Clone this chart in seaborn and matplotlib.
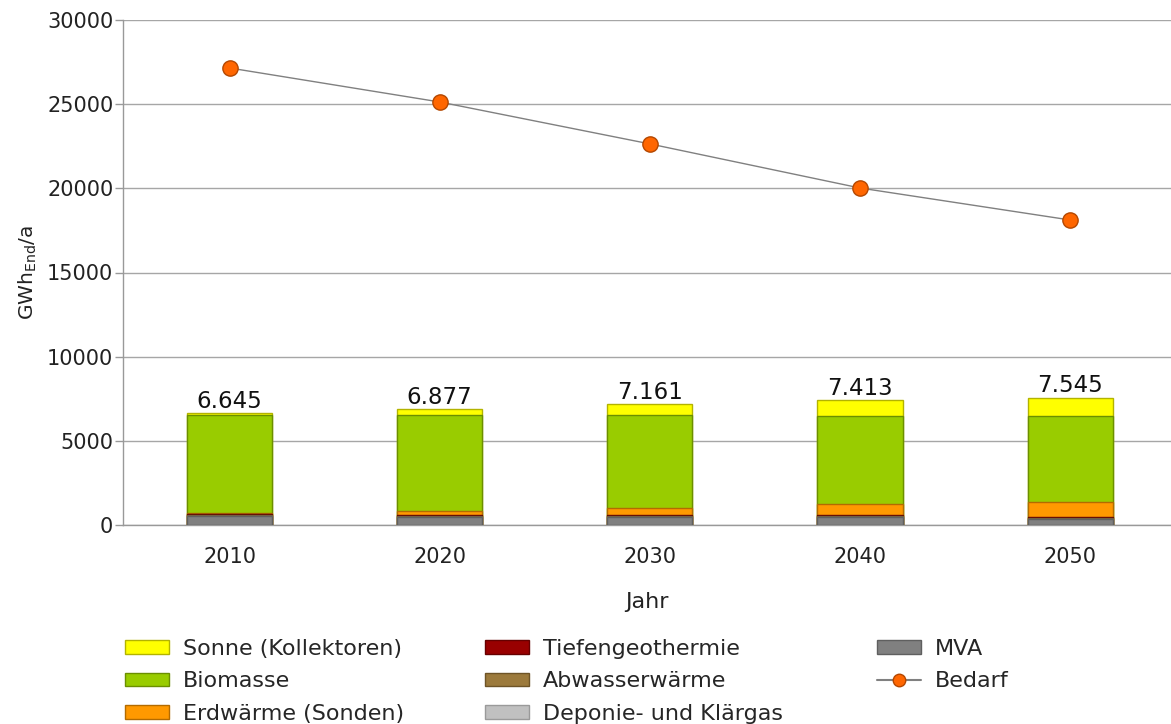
import numpy as np
import pandas as pd
import matplotlib
matplotlib.use("Agg")
import matplotlib.pyplot as plt
from matplotlib.patches import Patch
from matplotlib.lines import Line2D
import seaborn as sns

# Data (GWh_End per year)
years = ["2010", "2020", "2030", "2040", "2050"]
mva = [550, 500, 470, 470, 330]
deponie = [0, 0, 0, 0, 0]
abwasser = [50, 60, 80, 50, 100]
tiefengeo = [50, 30, 50, 50, 60]
erdwaerme = [50, 250, 430, 660, 900]
biomasse = [5850, 5720, 5494, 5243, 5105]
sonne = [95, 317, 637, 940, 1050]
totals = [6645, 6877, 7161, 7413, 7545]
total_labels = ["6.645", "6.877", "7.161", "7.413", "7.545"]
bedarf = [27150, 25130, 22640, 20020, 18120]

# Stack order from bottom to top
layers = [
    ("MVA", mva, "#808080", "#5f5f5f"),
    ("Deponie- und Klärgas", deponie, "#c0c0c0", "#9a9a9a"),
    ("Abwasserwärme", abwasser, "#9c7a3c", "#6e5427"),
    ("Tiefengeothermie", tiefengeo, "#990000", "#660000"),
    ("Erdwärme (Sonden)", erdwaerme, "#ff9900", "#b36b00"),
    ("Biomasse", biomasse, "#99cc00", "#6b8f00"),
    ("Sonne (Kollektoren)", sonne, "#ffff00", "#b3b300"),
]

sns.set_style("white")
plt.rcParams["font.family"] = ["DejaVu Sans"]

fig = plt.figure(figsize=(11.71, 7.24), dpi=100)
ax = fig.add_axes([123 / 1171, (724 - 525) / 724, (1171 - 123) / 1171, 505 / 724])

# Cumulative heights, drawn tallest first so lower segments overlay
cum = np.zeros(len(years))
cums = []
for name, vals, col, edge in layers:
    cum = cum + np.array(vals, dtype=float)
    cums.append((name, cum.copy(), col, edge))

for name, heights, col, edge in reversed(cums):
    df = pd.DataFrame({"Jahr": years, "Wert": heights})
    sns.barplot(data=df, x="Jahr", y="Wert", order=years, color=col,
                width=0.405, edgecolor=edge, linewidth=1.0, ax=ax,
                saturation=1, zorder=3)

# Demand line
dfb = pd.DataFrame({"x": np.arange(len(years)), "Bedarf": bedarf})
sns.lineplot(data=dfb, x="x", y="Bedarf", color="#808080", linewidth=1.0,
             marker="o", markersize=11, markerfacecolor="#ff6600",
             markeredgecolor="#b34700", markeredgewidth=1.0, ax=ax, zorder=4)

# Value labels above the bars
for i, (t, lab) in enumerate(zip(totals, total_labels)):
    ax.annotate(lab, (i, t), xytext=(0, 4), textcoords="offset points",
                ha="center", va="baseline", fontsize=16.5, color="#111111")

ax.set_xlim(-0.507, 4.48)
ax.set_ylim(0, 30000)
ax.set_yticks(np.arange(0, 30001, 5000))
ax.set_yticklabels([str(v) for v in range(0, 30001, 5000)], fontsize=15, color="#222222")
ax.set_xticks(range(len(years)))
ax.set_xticklabels(years, fontsize=15, color="#222222")
ax.set_xticks([-0.5, 0.5, 1.5, 2.5, 3.5], minor=True)
ax.tick_params(axis="x", which="major", length=0, pad=16)
ax.tick_params(axis="x", which="minor", length=7, color="#999999", width=1)
ax.tick_params(axis="y", length=6, color="#999999", width=1, pad=1, left=True)

ax.yaxis.grid(True, color="#a6a6a6", linewidth=1.0, zorder=0)
ax.set_axisbelow(True)
for s in ["top", "right"]:
    ax.spines[s].set_visible(False)
for s in ["left", "bottom"]:
    ax.spines[s].set_color("#999999")
    ax.spines[s].set_linewidth(1.0)

ax.set_xlabel("Jahr", fontsize=16, color="#222222", labelpad=18)
ax.set_ylabel(r"GWh$_{\mathrm{End}}$/a", fontsize=14.5, color="#222222", labelpad=6)

# Legend in three columns
handles = {name: Patch(facecolor=col, edgecolor=edge, linewidth=1.0)
           for name, _, col, edge in layers}
bedarf_handle = Line2D([0], [0], color="#808080", linewidth=1.5, marker="o",
                       markersize=9, markerfacecolor="#ff6600",
                       markeredgecolor="#b34700")
columns = [
    (["Sonne (Kollektoren)", "Biomasse", "Erdwärme (Sonden)"], 125 / 1171),
    (["Tiefengeothermie", "Abwasserwärme", "Deponie- und Klärgas"], 485 / 1171),
    (["MVA", "Bedarf"], 877 / 1171),
]
for names, xpos in columns:
    hs = [bedarf_handle if n == "Bedarf" else handles[n] for n in names]
    fig.legend(hs, names, loc="upper left", bbox_to_anchor=(xpos, 1 - 639 / 724),
               frameon=False, fontsize=16, handlelength=2.0, handleheight=0.55,
               handletextpad=0.6, labelspacing=0.56, borderaxespad=0, borderpad=0)

fig.savefig("out.png", dpi=100)
